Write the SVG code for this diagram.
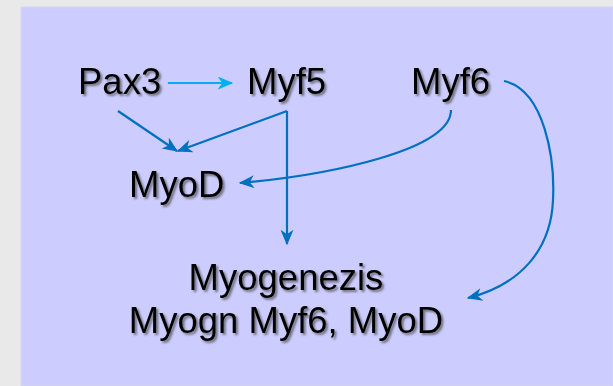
<svg xmlns="http://www.w3.org/2000/svg" width="613" height="386" viewBox="0 0 613 386">
<defs>
<style>
.lbl{font-family:"Liberation Sans",Arial,sans-serif;font-size:36.5px;fill:#000;filter:url(#sh)}
.c{fill:none;stroke:#0070c0;stroke-width:2.2}
.c2{fill:none;stroke:#00b0f0;stroke-width:2.2}
</style>
<filter id="sh" x="-10%" y="-20%" width="130%" height="150%">
<feDropShadow dx="2" dy="2" stdDeviation="1.2" flood-color="#444" flood-opacity="0.7"/>
</filter>
<marker id="a" viewBox="0 0 12 10" markerWidth="16" markerHeight="13" refX="11" refY="5" orient="auto" markerUnits="userSpaceOnUse">
<path d="M0,0 L12,5 L0,10 L3.5,5 z" fill="#0070c0"/>
</marker>
<marker id="a2" viewBox="0 0 12 10" markerWidth="16" markerHeight="13" refX="11" refY="5" orient="auto" markerUnits="userSpaceOnUse">
<path d="M0,0 L12,5 L0,10 L3.5,5 z" fill="#00b0f0"/>
</marker>
</defs>
<rect width="613" height="386" fill="#e8e9e8"/>
<rect x="21" y="7" width="592" height="379" fill="#ccccff" stroke="#d6d6f0" stroke-width="1"/>
<g id="connectors">
<line class="c2" x1="168" y1="83" x2="232" y2="83" marker-end="url(#a2)"/>
<line class="c" x1="118" y1="111" x2="177" y2="151" marker-end="url(#a)"/>
<line class="c" x1="287" y1="111" x2="178" y2="151" marker-end="url(#a)"/>
<line class="c" x1="287" y1="111" x2="287" y2="244" marker-end="url(#a)"/>
<path class="c" d="M451,110 C451,150 330,175 240,183" marker-end="url(#a)"/>
<path class="c" d="M504,81 C545,90 555,160 553,200 C551,250 520,285 468,298" marker-end="url(#a)"/>
</g>
<g id="pax3"><text class="lbl" x="78" y="94">Pax3</text></g>
<g id="myf5"><text class="lbl" x="247" y="94">Myf5</text></g>
<g id="myf6"><text class="lbl" x="411" y="94">Myf6</text></g>
<g id="myod"><text class="lbl" x="129" y="197">MyoD</text></g>
<g id="myogenezis">
<text class="lbl" x="286" y="290" text-anchor="middle">Myogenezis</text>
<text class="lbl" x="286" y="333" text-anchor="middle">Myogn Myf6, MyoD</text>
</g>
</svg>
